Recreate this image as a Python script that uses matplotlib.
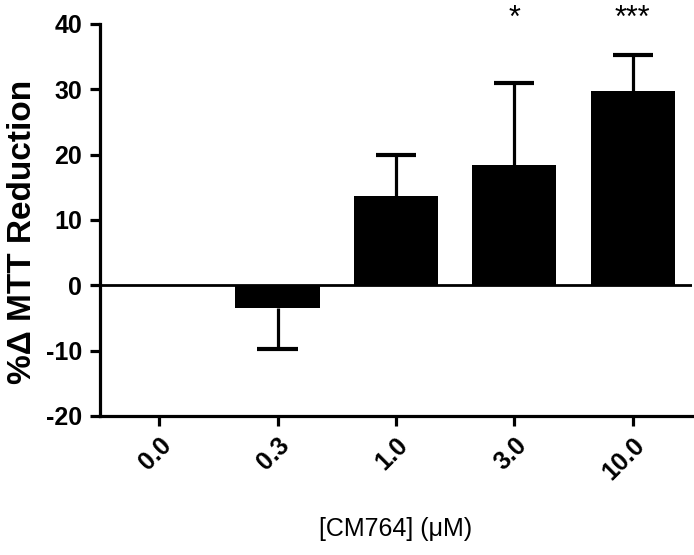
import numpy as np
import matplotlib
matplotlib.use("Agg")
import matplotlib.pyplot as plt

plt.rcParams['font.family'] = ['Liberation Sans', 'DejaVu Sans']
plt.rcParams['axes.unicode_minus'] = False

# data
doses = ['0.0', '0.3', '1.0', '3.0', '10.0']
means = [0.0, -3.5, 13.6, 18.4, 29.8]
errs = [0.0, 6.3, 6.4, 12.6, 5.5]
stars = ['', '', '', '*', '***']

fig = plt.figure(figsize=(6.94, 5.55), dpi=100)
ax = fig.add_axes([0.144, 0.2505, 0.853, 0.7063])

x = np.arange(len(doses))
ax.bar(x, means, width=0.71, color='black', zorder=2)

# one-sided error bars, pointing away from zero, cap only at the far end
m = np.array(means)
e = np.array(errs)
tips = m + np.sign(m) * e
has = e > 0
ax.vlines(x[has], m[has], tips[has], color='black', lw=2.3, zorder=1)
ax.hlines(tips[has], x[has] - 0.17, x[has] + 0.17, color='black', lw=3.0,
          zorder=1)

ax.axhline(0, color='black', lw=2.0, zorder=3)

for xi, s in zip(x, stars):
    if s:
        ax.text(xi, 39.6, s, ha='center', va='baseline', fontsize=22,
                clip_on=False)

ax.set_xlim(-0.5, 4.5)
ax.set_ylim(-20, 40)
ax.set_yticks(np.arange(-20, 41, 10))
ax.set_xticks(x)
ax.set_xticklabels(doses, rotation=45, ha='right', rotation_mode='anchor',
                   fontsize=18, fontweight='bold')
for lab in ax.get_yticklabels():
    lab.set_fontsize(18)
    lab.set_fontweight('bold')

ax.spines['top'].set_visible(False)
ax.spines['right'].set_visible(False)
ax.spines['left'].set_linewidth(2.3)
ax.spines['bottom'].set_linewidth(2.3)
ax.tick_params(axis='both', width=2.3, color='black')
ax.tick_params(axis='y', length=7, pad=6)
ax.tick_params(axis='x', length=7.5, pad=5)

ax.set_ylabel('%\u0394 MTT Reduction', fontsize=24, fontweight='bold')
ax.yaxis.set_label_coords(-0.104, 0.47)
ax.set_xlabel('[CM764] (\u03bcM)', fontsize=18)
ax.xaxis.set_label_coords(0.5, -0.258)

fig.savefig('out.png', dpi=100)
